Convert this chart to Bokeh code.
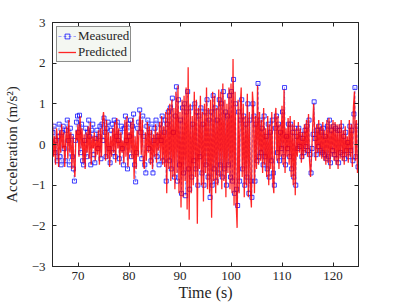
import numpy as np
from bokeh.plotting import figure
from bokeh.models import LinearAxis, Range1d, FixedTicker, Legend
from bokeh.embed import file_html
from bokeh.resources import INLINE

t_start = 65.0
dt = 0.2

predicted = [
    0.55, -0.3, 0.2, -0.5, 0.4,   0.1, -0.55, 0.35, -0.2, 0.5,
    -0.1, 0.3, -0.55, 0.15, 0.45, -0.35, 0.6, -0.2, 0.3, -0.6,
    0.2, -0.45, -0.8, 0.35, 0.1,  0.5, -0.3, 0.7, -0.1, 0.4,
    -0.45, 0.25, -0.6, 0.3, -0.2, 0.45, -0.35, 0.55, -0.5, 0.2,
    -0.1, 0.3, -0.4, 0.2, -0.25,  0.35, -0.5, 0.4, -0.3, 0.55,
    0.8, 0.5, -0.4, 0.6, -0.35,   0.3, -0.55, 0.2, -0.3, 0.4,
    -0.2, 0.55, -0.45, 0.65, -0.1, 0.4, -0.5, 0.3, -0.2, 0.1,
    -0.45, 0.6, -0.3, 0.7, -0.55, 0.3, -0.2, 0.55, -0.35, 0.65,
    -0.85, 0.2, -0.6, 0.35, -0.3, 0.5, 0.8, -0.25, 0.6, -0.45,
    -0.6, 0.3, -0.4, 0.55, -0.2,  0.45, -0.5, 0.35, -0.6, 0.25,
    -0.3, 0.5, -0.45, 0.3, -0.15, 0.55, -0.4, 0.7, -0.5, 0.45,
    -0.55, 0.8, -1.2, 0.9, -0.6,  1.0, -0.9, 1.1, -0.8, 0.9,
    -1.1, 1.3, -0.7, 1.45, -1.2,  0.8, -1.55, 1.1, -1.3, 1.2,
    -0.9, 1.4, -1.6, 1.9, -1.85,  1.0, -1.2, 0.7, -1.0, 1.3,
    -0.8, 1.1, -1.95, 0.9, -0.6,  1.2, -1.0, 0.8, -1.4, 1.0,
    -0.7, 1.4, -1.1, 0.9, -1.2,   1.1, -1.8, 1.3, -0.9, 1.2,
    -1.2, 0.9, -1.0, 1.35, -0.8,  1.3, -1.1, 1.5, -0.9, 1.1,
    -1.3, 1.0, -0.7, 1.4, -1.1,   1.5, -1.2, 2.1, -1.5, 1.3,
    -1.4, -2.05, 1.1, -1.2, 0.9,  1.4, -0.8, 1.0, -1.3, 0.7,
    -1.0, 1.25, -1.3, 0.8, -1.1,  -1.55, 1.3, 0.9, -1.2, 0.7,
    -0.6, 1.45, -0.5, 0.8, -0.4,  0.6, -0.7, 0.9, -0.5, 0.4,
    -0.8, 0.7, -1.0, 0.5, -0.6,   0.8, -0.9, -1.2, 0.6, 0.9,
    -0.4, 0.7, -0.6, 0.5, -0.3,   0.95, -0.5, 1.35, -0.7, 0.4,
    -0.3, 0.65, -0.5, 0.7, -0.8,  0.5, -1.0, 0.6, -1.25, 0.4,
    -0.3, 0.55, -0.2, 0.4, -0.45, 0.3, -0.35, 0.5, -0.2, 0.6,
    -0.3, 0.75, -0.4, -0.8, -0.25, 0.4, 1.0, 0.3, -0.4, 0.5,
    -0.2, 0.6, -0.3, 0.45, -0.35, 0.55, -0.4, 0.35, -0.5, 0.6,
    -0.45, 0.65, -0.6, 0.5, -0.3, 0.6, -0.4, 0.55, -0.5, 0.5,
    -0.6, 0.5, -0.35, 0.6, -0.4,  0.35, -0.5, 0.45, -0.3, 0.2,
    -0.45, 0.6, -0.3, 0.5, -0.55, 0.9, 1.3, -0.4, 0.6, -0.7,
]

measured = [
    0.3, 0.45, -0.2, 0.1, -0.4,   0.2, 0.5, -0.3, -0.5, 0.3,
    0.45, -0.1, -0.4, 0.35, 0.6,  0.1, -0.5, 0.4, 0.2, -0.3,
    -0.6, -0.9, 0.1, 0.55, 0.7,   0.3, 0.72, -0.2, 0.5, -0.4,
    -0.5, 0.1, 0.4, -0.3, 0.3,    0.6, 0.2, -0.5, 0.35, 0.5,
    -0.25, -0.45, 0.15, 0.35, -0.1, 0.2, 0.45, -0.35, 0.5, 0.1,
    0.65, 0.3, -0.3, 0.4, 0.55,   -0.1, -0.45, 0.35, 0.5, -0.2,
    0.6, -0.3, 0.2, 0.55, 0.1,    -0.35, 0.3, 0.45, -0.1, -0.5,
    0.4, 0.7, 0.1, -0.6, 0.5,     0.2, 0.6, -0.3, 0.45, 0.75,
    -0.5, -0.92, -0.2, 0.4, 0.55, 0.85, 0.3, -0.35, 0.7, 0.2,
    -0.5, -0.7, 0.45, 0.6, -0.1,  0.3, -0.4, 0.5, -0.7, 0.1,
    0.4, 0.6, -0.3, 0.2, -0.5,    0.5, 0.1, 0.7, -0.4, 0.3,
    0.6, -0.9, 0.5, 0.8, -0.4,    0.9, -0.6, 1.14, 0.3, -0.8,
    0.7, 1.42, -0.9, 1.1, -0.5,   0.6, -1.2, 0.9, -0.7, 1.0,
    -1.26, 0.8, 1.3, -0.6, -1.1,  0.9, -0.8, 0.5, -0.4, 1.0,
    -0.6, 0.8, -1.0, 0.7, -0.3,   0.9, -0.7, 0.5, -1.0, 0.8,
    -0.5, 1.1, -0.8, 0.6, -1.3,   0.8, -1.0, 1.2, -0.6, 0.9,
    -0.9, 0.6, -0.7, 1.1, -0.5,   1.0, -0.8, 1.3, -0.6, 0.8,
    -1.0, 0.7, -0.5, 1.2, -0.8,   1.3, -0.9, 1.6, -1.2, 1.0,
    -1.1, -1.5, 0.8, -0.9, 0.6,   1.1, -0.6, 0.7, -1.0, 0.5,
    -0.8, 1.0, -1.2, 0.6, -0.9,   -1.3, 1.0, 0.7, -0.9, 0.5,
    -0.4, 1.5, -0.3, 0.6, -0.2,   0.4, -0.5, 0.7, -0.3, 0.2,
    -0.6, 0.5, -0.8, 0.3, -0.4,   0.6, -0.7, -1.0, 0.4, 0.7,
    -0.2, 0.5, -0.4, 0.3, -0.1,   0.8, -0.3, 1.4, -0.5, 0.2,
    -0.1, 0.5, -0.3, 0.5, -0.6,   0.3, -0.8, 0.4, -1.0, 0.2,
    -0.1, 0.4, -0.05, 0.25, -0.3, 0.15, -0.2, 0.35, -0.05, 0.45,
    -0.15, 0.6, -0.25, -0.7, -0.1, 0.25, 1.05, 0.15, -0.25, 0.35,
    -0.05, 0.45, -0.15, 0.3, -0.2, 0.4, -0.25, 0.2, -0.35, 0.45,
    -0.3, 0.6, -0.45, 0.35, -0.15, 0.45, -0.25, 0.4, -0.35, 0.35,
    -0.45, 0.35, -0.2, 0.45, -0.25, 0.2, -0.35, 0.3, -0.15, 0.05,
    -0.3, 0.45, -0.15, 0.35, -0.4, 0.75, 1.4, -0.3, 0.45, -0.55,
]

x_ticks = [70, 80, 90, 100, 110, 120]
y_ticks = [-3, -2, -1, 0, 1, 2, 3]

t_pred = [t_start + dt * i for i in range(len(predicted))]
t_meas = [t_start + dt / 2 + dt * i for i in range(len(measured))]

FONT = "Liberation Serif"
AX = "#262626"

p = figure(frame_width=306, frame_height=244, output_backend="svg", toolbar_location=None,
           x_range=Range1d(65, 125), y_range=Range1d(-3, 3),
           min_border_left=44, min_border_right=28, min_border_top=22, min_border_bottom=28)
p.grid.visible = False
p.outline_line_color = AX
p.outline_line_width = 1
p.background_fill_color = "white"
p.border_fill_color = "white"

def style_axis(ax, ticks, labels=True):
    ax.ticker = FixedTicker(ticks=ticks)
    ax.major_tick_in = 4
    ax.major_tick_out = 0
    ax.minor_tick_in = 0
    ax.minor_tick_out = 0
    ax.axis_line_color = AX
    ax.major_tick_line_color = AX
    ax.major_label_text_font = FONT
    ax.major_label_text_font_size = "13px"
    ax.major_label_text_color = AX
    ax.axis_label_text_font = FONT
    ax.axis_label_text_font_size = "16px"
    ax.axis_label_text_font_style = "normal"
    ax.axis_label_text_color = AX
    if not labels:
        ax.major_label_text_font_size = "0px"
        ax.major_label_text_alpha = 0

style_axis(p.xaxis[0], x_ticks)
style_axis(p.yaxis[0], y_ticks)
p.xaxis[0].axis_label = "Time (s)"
p.xaxis[0].axis_label_standoff = 1
p.xaxis[0].major_label_standoff = 5
p.yaxis[0].axis_label = "Acceleration (m/s²)"
p.yaxis[0].axis_label_text_font_size = "15px"
p.yaxis[0].axis_label_standoff = 9
p.yaxis[0].major_label_standoff = 7

top = LinearAxis()
style_axis(top, x_ticks, labels=False)
p.add_layout(top, "above")
right = LinearAxis()
style_axis(right, y_ticks, labels=False)
p.add_layout(right, "right")
top.major_label_standoff = 0
right.major_label_standoff = 0

ml = p.line(t_meas, measured, line_color="blue", line_dash="3 2", line_width=0.6, line_alpha=0.6)
ms = p.scatter(t_meas, measured, marker="square", size=4, line_color="blue",
               fill_color=None, line_width=1, line_alpha=0.75)
pl = p.line(t_pred, predicted, line_color="red", line_width=1.3, line_alpha=0.85)

legend = Legend(items=[("Measured", [ml, ms]), ("Predicted", [pl])], location="top_left")
legend.label_text_font = FONT
legend.label_text_font_size = "13px"
legend.label_text_color = AX
legend.border_line_color = AX
legend.border_line_width = 1
legend.background_fill_color = "#f4f7f2"
legend.background_fill_alpha = 1
legend.padding = 1
legend.spacing = 0
legend.margin = 4
legend.glyph_width = 18
legend.glyph_height = 12
legend.label_standoff = 2
legend.label_height = 12
p.add_layout(legend)

open("out.html", "w").write(file_html(p, INLINE))
